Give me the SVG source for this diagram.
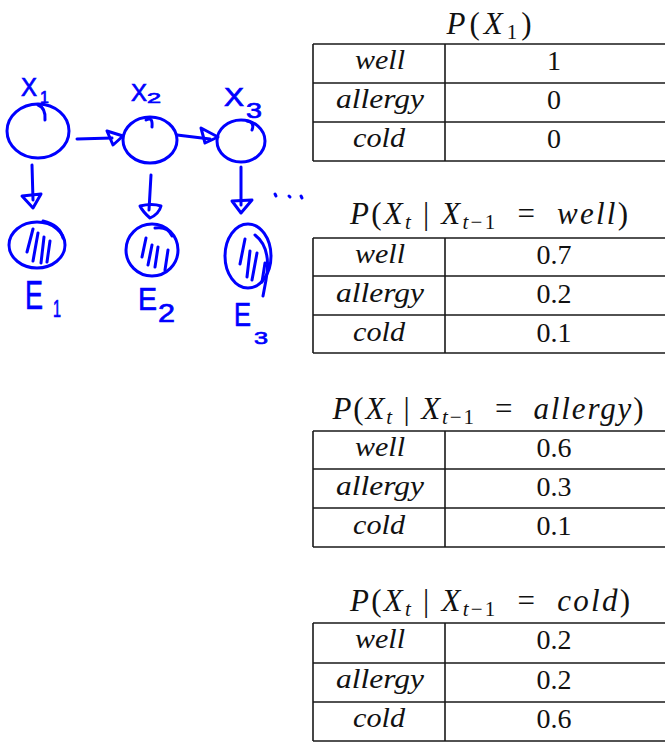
<svg xmlns="http://www.w3.org/2000/svg" width="665" height="742" viewBox="0 0 665 742">
<style>
.ink{fill:none;stroke:#0000ff;stroke-width:3;stroke-linecap:round;stroke-linejoin:round}
.hw{font-family:"Liberation Sans","DejaVu Sans",sans-serif;fill:#0000ff;stroke:#0000ff;stroke-width:0.7}
.grid{stroke:#1a1a1a;stroke-width:1.6;fill:none}
.lbl{font-family:"Liberation Serif","DejaVu Serif",serif;font-style:italic;font-size:28px;text-anchor:middle;fill:#111}
.num{font-family:"Liberation Serif","DejaVu Serif",serif;font-size:28px;text-anchor:middle;fill:#111}
.ttl{font-family:"Liberation Serif","DejaVu Serif",serif;font-size:31px;text-anchor:middle;fill:#111}
.i{font-style:italic}
</style>
<rect width="665" height="742" fill="#ffffff"/>

<!-- hand-drawn HMM -->
<g id="X1">
  <ellipse class="ink" cx="38" cy="131" rx="31" ry="27"/>
  <path class="ink" d="M38,105 Q46,108 45,120"/>
  <text class="hw" x="21" y="96" font-size="26" textLength="16" lengthAdjust="spacingAndGlyphs">X</text>
  <text class="hw" x="40" y="103" font-size="16">1</text>
</g>
<g id="X2">
  <ellipse class="ink" cx="150" cy="140" rx="27" ry="23"/>
  <path class="ink" d="M146,120 Q153,116 152,127"/>
  <text class="hw" x="131" y="101" font-size="24" textLength="16" lengthAdjust="spacingAndGlyphs">X</text>
  <text class="hw" x="147" y="103" font-size="15" textLength="14" lengthAdjust="spacingAndGlyphs">2</text>
</g>
<g id="X3">
  <ellipse class="ink" cx="241" cy="141" rx="24" ry="21"/>
  <path class="ink" d="M247,121 Q255,122 252,130"/>
  <text class="hw" x="224" y="106" font-size="25" textLength="20" lengthAdjust="spacingAndGlyphs">X</text>
  <text class="hw" x="246" y="118" font-size="22" textLength="16" lengthAdjust="spacingAndGlyphs">3</text>
</g>
<g id="E1">
  <ellipse class="ink" cx="37" cy="245" rx="28" ry="23"/>
  <path class="ink" d="M43,221 Q60,225 63,238"/>
  <path class="ink" d="M33,229 L27,252 M38,233 L33,261 M44,237 L41,263 M50,241 L47,262"/>
  <text class="hw" x="25" y="309" font-size="40" textLength="18" lengthAdjust="spacingAndGlyphs">E</text>
  <text class="hw" x="53" y="317" font-size="24" textLength="8" lengthAdjust="spacingAndGlyphs">1</text>
</g>
<g id="E2">
  <ellipse class="ink" cx="152" cy="250" rx="26" ry="26"/>
  <path class="ink" d="M155,228 Q168,226 172,236"/>
  <path class="ink" d="M146,238 L142,257 M152,245 L148,265 M158,247 L155,267 M168,250 L165,270"/>
  <text class="hw" x="138" y="310" font-size="32" textLength="19" lengthAdjust="spacingAndGlyphs">E</text>
  <text class="hw" x="158" y="322" font-size="26" textLength="17" lengthAdjust="spacingAndGlyphs">2</text>
</g>
<g id="E3">
  <ellipse class="ink" cx="248" cy="256" rx="23" ry="32"/>
  <path class="ink" d="M255,235 Q272,248 266,280 L263,296"/>
  <path class="ink" d="M245,239 L240,264 M250,251 L247,277 M257,253 L252,280 M265,263 L262,282"/>
  <text class="hw" x="234" y="326" font-size="33" textLength="17" lengthAdjust="spacingAndGlyphs">E</text>
  <text class="hw" x="254" y="344" font-size="17" textLength="14" lengthAdjust="spacingAndGlyphs">3</text>
</g>
<g id="ellipsis">
  <path class="ink" d="M275,194 L276,196 M289,196 L290,197 M301,196 L302,198"/>
</g>

<g id="connectors">
  <!-- X1 -> X2 -->
  <path class="ink" d="M77,139 L112,138"/>
  <path class="ink" d="M107,131 L123,136 L113,145 Z"/>
  <!-- X2 -> X3 -->
  <path class="ink" d="M177,135 L210,139"/>
  <path class="ink" d="M201,128 L218,137 L205,143 Z"/>
  <!-- X1 -> E1 -->
  <path class="ink" d="M32,165 L33,200"/>
  <path class="ink" d="M22,196 L41,194 L33,208 Z"/>
  <!-- X2 -> E2 -->
  <path class="ink" d="M151,175 L149,210"/>
  <path class="ink" d="M140,206 Q152,203 161,206 Q159,214 150,218 Q143,212 140,206 Z"/>
  <!-- X3 -> E3 -->
  <path class="ink" d="M241,167 L241,205"/>
  <path class="ink" d="M232,201 L252,200 L241,213 Z"/>
</g>

<!-- Table 1 -->
<g id="table-prior">
  <text class="ttl" x="489" y="34" textLength="85" lengthAdjust="spacing"><tspan class="i">P</tspan>(<tspan class="i">X</tspan><tspan font-size="21" dy="5">1</tspan><tspan dy="-5">)</tspan></text>
  <path class="grid" d="M313,44 H665 M313,83 H665 M313,122 H665 M313,161 H665 M313,44 V161 M445,44 V161"/>
  <text class="lbl" x="380" y="69" textLength="50" lengthAdjust="spacingAndGlyphs">well</text>
  <text class="lbl" x="380" y="108" textLength="88" lengthAdjust="spacingAndGlyphs">allergy</text>
  <text class="lbl" x="379" y="147" textLength="52" lengthAdjust="spacingAndGlyphs">cold</text>
  <text class="num" x="554" y="70">1</text>
  <text class="num" x="554" y="109">0</text>
  <text class="num" x="554" y="148">0</text>
</g>

<!-- Table 2 -->
<g id="table-well">
  <text class="ttl" x="489" y="224" textLength="278" lengthAdjust="spacing"><tspan class="i">P</tspan>(<tspan class="i">X</tspan><tspan class="i" font-size="21" dy="5">t</tspan><tspan dy="-5">&#160;|&#160;</tspan><tspan class="i">X</tspan><tspan font-size="21" dy="5"><tspan class="i">t</tspan>−1</tspan><tspan dy="-5">&#160;&#160;=&#160;&#160;</tspan><tspan class="i">well</tspan>)</text>
  <path class="grid" d="M313,238 H665 M313,276 H665 M313,315 H665 M313,353 H665 M313,238 V353 M445,238 V353"/>
  <text class="lbl" x="380" y="263" textLength="50" lengthAdjust="spacingAndGlyphs">well</text>
  <text class="lbl" x="380" y="302" textLength="88" lengthAdjust="spacingAndGlyphs">allergy</text>
  <text class="lbl" x="379" y="341" textLength="52" lengthAdjust="spacingAndGlyphs">cold</text>
  <text class="num" x="554" y="264">0.7</text>
  <text class="num" x="554" y="303">0.2</text>
  <text class="num" x="554" y="342">0.1</text>
</g>

<!-- Table 3 -->
<g id="table-allergy">
  <text class="ttl" x="488" y="419" textLength="311" lengthAdjust="spacing"><tspan class="i">P</tspan>(<tspan class="i">X</tspan><tspan class="i" font-size="21" dy="5">t</tspan><tspan dy="-5">&#160;|&#160;</tspan><tspan class="i">X</tspan><tspan font-size="21" dy="5"><tspan class="i">t</tspan>−1</tspan><tspan dy="-5">&#160;&#160;=&#160;&#160;</tspan><tspan class="i">allergy</tspan>)</text>
  <path class="grid" d="M313,431 H665 M313,469 H665 M313,508 H665 M313,547 H665 M313,431 V547 M445,431 V547"/>
  <text class="lbl" x="380" y="456" textLength="50" lengthAdjust="spacingAndGlyphs">well</text>
  <text class="lbl" x="380" y="495" textLength="88" lengthAdjust="spacingAndGlyphs">allergy</text>
  <text class="lbl" x="379" y="534" textLength="52" lengthAdjust="spacingAndGlyphs">cold</text>
  <text class="num" x="554" y="457">0.6</text>
  <text class="num" x="554" y="496">0.3</text>
  <text class="num" x="554" y="535">0.1</text>
</g>

<!-- Table 4 -->
<g id="table-cold">
  <text class="ttl" x="490" y="611" textLength="280" lengthAdjust="spacing"><tspan class="i">P</tspan>(<tspan class="i">X</tspan><tspan class="i" font-size="21" dy="5">t</tspan><tspan dy="-5">&#160;|&#160;</tspan><tspan class="i">X</tspan><tspan font-size="21" dy="5"><tspan class="i">t</tspan>−1</tspan><tspan dy="-5">&#160;&#160;=&#160;&#160;</tspan><tspan class="i">cold</tspan>)</text>
  <path class="grid" d="M313,623 H665 M313,663 H665 M313,702 H665 M313,741 H665 M313,623 V741 M445,623 V741"/>
  <text class="lbl" x="380" y="648" textLength="50" lengthAdjust="spacingAndGlyphs">well</text>
  <text class="lbl" x="380" y="688" textLength="88" lengthAdjust="spacingAndGlyphs">allergy</text>
  <text class="lbl" x="379" y="727" textLength="52" lengthAdjust="spacingAndGlyphs">cold</text>
  <text class="num" x="554" y="649">0.2</text>
  <text class="num" x="554" y="689">0.2</text>
  <text class="num" x="554" y="728">0.6</text>
</g>
</svg>
